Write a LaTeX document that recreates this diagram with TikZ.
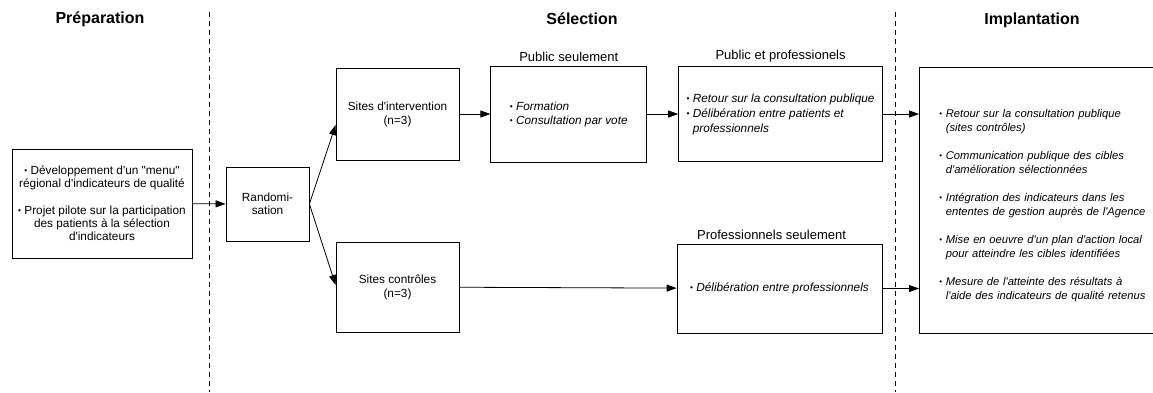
\documentclass[tikz,border=0pt]{standalone}
\usepackage{fontspec}
\setmainfont{Liberation Sans}[Ligatures=TeXOff]
\usetikzlibrary{arrows.meta,positioning}

\newcommand{\puce}{\raisebox{0.15ex}{\scalebox{0.7}{\textbullet}}\ }
\newcommand{\retrait}{\\\hphantom{\puce}}

\begin{document}
\begin{tikzpicture}[x=1pt, y=-1pt, every node/.style={font=\fontsize{11.8}{14}\selectfont}, node distance=31pt,
	bx/.style={draw, line width=0.8pt, inner sep=0pt, align=center},
	lab/.style={font=\fontsize{13}{14}\selectfont, inner sep=0pt},
	hd/.style={font=\fontsize{16}{18}\selectfont\bfseries, inner sep=0pt},
	sep/.style={line width=0.8pt, dash pattern=on 5pt off 4pt},
	fl/.style={-{Triangle[length=10pt,width=7pt]}, line width=0.8pt}]
	\useasboundingbox (0,0) rectangle (1153,392);
	\clip (0,0) rectangle (1153,392);
	% phases
	\node[hd] (hprep) at (100,19) {Préparation};
	\node[hd] (hsel) at (582,19) {Sélection};
	\node[hd] (himp) at (1032,20) {Implantation};
	\draw[sep] (209,12) -- (209,392);
	\draw[sep] (895,12) -- (895,392);
	% preparation
	\node[bx, minimum width=180pt, minimum height=109pt, font=\fontsize{11.8}{13}\selectfont] (prep) at (102,203.5)
		{\puce Développement d'un "menu"\\ régional d'indicateurs de qualité\\[14pt]
		 \puce Projet pilote sur la participation\\ des patients à la sélection\\ d'indicateurs};
	\node[bx, minimum width=83pt, minimum height=74pt, font=\fontsize{11.8}{13}\selectfont] (r) at (267.5,204) {Randomi-\\sation};
	% selection
	\node[bx, minimum width=123pt, minimum height=92pt] (si) at (397.5,114) {Sites d'intervention\\(n=3)};
	\node[bx, right=of si, minimum width=156pt, minimum height=96pt, align=left, font=\fontsize{11.8}{14}\selectfont\itshape] (ps)
		{\puce Formation\\ \puce Consultation par vote};
	\node[bx, right=of ps, minimum width=204pt, minimum height=95pt, align=left, font=\fontsize{11.8}{15}\selectfont\itshape] (pp)
		{\puce Retour sur la consultation publique\\ \puce Délibération entre patients et\retrait professionnels};
	\node[bx, minimum width=123pt, minimum height=90pt] (sc) at (397.5,287) {Sites contrôles\\(n=3)};
	\node[bx, minimum width=205pt, minimum height=89pt, font=\fontsize{11.8}{14}\selectfont\itshape] (pro) at (779.5,288.5)
		{\puce Délibération entre professionnels};
	\node[lab, above=4pt of ps] (lps) {Public seulement};
	\node[lab, above=4pt of pp] (lpp) {Public et professionels};
	\node[lab, above=4pt of pro, xshift=-8pt] (lpro) {Professionnels seulement};
	% implantation
	\node[bx, anchor=west, text width=240pt, inner xsep=20pt, minimum height=266pt, align=left,
		font=\fontsize{11.2}{13.5}\selectfont\itshape] (impl) at (919,200)
		{\rule{0pt}{19pt}\puce Retour sur la consultation publique\retrait (sites contrôles)\\[15pt]
		 \puce Communication publique des cibles\retrait d'amélioration sélectionnées\\[15pt]
		 \puce Intégration des indicateurs dans les\retrait ententes de gestion auprès de l'Agence\\[15pt]
		 \puce Mise en oeuvre d'un plan d'action local\retrait pour atteindre les cibles identifiées\\[15pt]
		 \puce Mesure de l'atteinte des résultats à\retrait l'aide des indicateurs de qualité retenus};
	% arrows
	\draw[fl] (prep) -- (r);
	\draw[fl] (r.east) -- ([yshift=-11pt]si.west);
	\draw[fl] (r.east) -- ([yshift=2pt]sc.west);
	\draw[fl] (si) -- (ps);
	\draw[fl] (ps) -- (pp);
	\draw[fl] (pp.east) -- (pp.east -| impl.west);
	\draw[fl] (sc) -- (pro);
	\draw[fl] (pro.east) -- (pro.east -| impl.west);
\end{tikzpicture}
\end{document}
